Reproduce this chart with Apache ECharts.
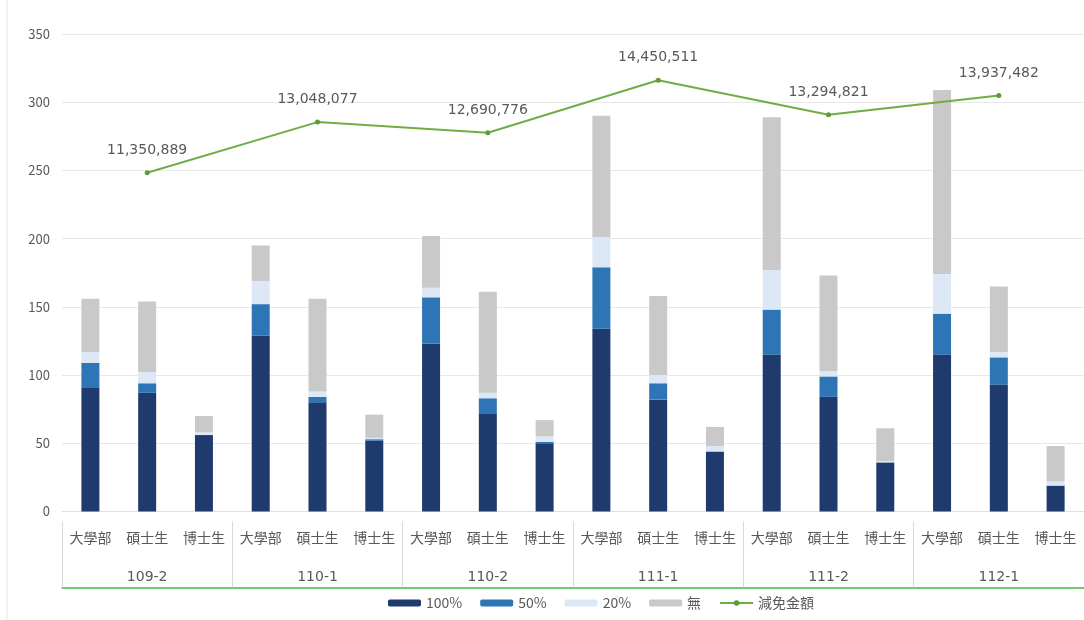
<!DOCTYPE html>
<html>
<head>
<meta charset="utf-8">
<script src="https://cdn.jsdelivr.net/npm/echarts@6/dist/echarts.min.js"></script>
<style>
html,body{margin:0;padding:0;background:#fff;}
#c{width:1084px;height:620px;}
</style>
</head>
<body>
<div id="c"></div>
<script>
const groups = ['109-2','110-1','110-2','111-1','111-2','112-1'];
const levels = ['大學部','碩士生','博士生'];
// per category: 109-2 (大學部, 碩士生, 博士生), 110-1 (...), ...
const full100 = [91, 87, 56, 129, 80, 52, 123, 72, 50, 134, 82, 44, 115, 84, 36, 115, 93, 19];
const half50  = [18,  7,  0,  23,  4,  1,  34, 11,  1,  45, 12,  0,  33, 15,  0,  30, 20,  0];
const part20  = [ 8,  8,  2,  17,  4,  1,   7,  4,  4,  22,  6,  4,  29,  4,  1,  29,  4,  3];
const none    = [39, 52, 12,  26, 68, 17,  38, 74, 12,  89, 58, 14, 112, 70, 24, 135, 48, 26];
const amounts = [11350889, 13048077, 12690776, 14450511, 13294821, 13937482];
const yTicks = [0, 50, 100, 150, 200, 250, 300, 350];

const cats = [];
groups.forEach(g => levels.forEach(l => cats.push(l)));
const lineData = [];
groups.forEach((g, i) => { lineData.push(null, amounts[i], null); });

const colors = ['#1f3a6c', '#2e75b6', '#dce8f5', '#c9c9c9'];
const font = '"Noto Sans CJK TC", "Noto Sans", sans-serif';
const numFont = '"DejaVu Sans", sans-serif';
const barCommon = { type: 'bar', stack: 's', barWidth: 18, xAxisIndex: 0, yAxisIndex: 0 };

const chart = echarts.init(document.getElementById('c'));
chart.setOption({
  animation: false,
  textStyle: { fontFamily: font },
  color: colors.concat(['#70ad47']),
  grid: { left: 62, right: -2, top: 34, bottom: 108.5 },
  legend: {
    bottom: 5, left: 383, itemWidth: 33, itemHeight: 7, itemGap: 18,
    textStyle: { color: '#595959', fontSize: 14, fontFamily: font },
    data: ['100%', '50%', '20%', '無', '減免金額']
  },
  graphic: [{ type: 'line', shape: { x1: 7, y1: 0, x2: 7, y2: 620 }, style: { stroke: '#e6e6e6', lineWidth: 1 } }],
  xAxis: [
    {
      type: 'category', data: cats, position: 'bottom',
      axisLine: { show: true, onZero: false, lineStyle: { color: '#e0e0e0' } },
      axisTick: { show: false },
      axisLabel: { interval: 0, color: '#595959', fontSize: 14, margin: 19, fontFamily: font }
    },
    {
      type: 'category', data: groups, position: 'bottom', offset: 76,
      axisLine: { show: true, onZero: false, lineStyle: { color: '#3cb93c', width: 1.5 } },
      axisTick: { show: true, inside: true, length: 66, interval: 0, lineStyle: { color: '#d9d9d9' } },
      axisLabel: { inside: true, interval: 0, color: '#595959', fontSize: 14, margin: 3, fontFamily: numFont }
    }
  ],
  yAxis: [
    {
      type: 'value', min: yTicks[0], max: yTicks[yTicks.length - 1], interval: 50,
      axisLine: { show: false }, axisTick: { show: false },
      splitLine: { lineStyle: { color: '#e8e8e8' } },
      axisLabel: { color: '#595959', fontSize: 13, margin: 12, fontFamily: font }
    },
    { type: 'value', min: 0, max: 16000000, show: false, splitLine: { show: false } }
  ],
  series: [
    Object.assign({ name: '100%', data: full100 }, barCommon),
    Object.assign({ name: '50%', data: half50 }, barCommon),
    Object.assign({ name: '20%', data: part20 }, barCommon),
    Object.assign({ name: '無', data: none }, barCommon),
    {
      name: '減免金額', type: 'line', xAxisIndex: 0, yAxisIndex: 1, data: lineData,
      connectNulls: true, symbol: 'circle', symbolSize: 5,
      lineStyle: { color: '#70ad47', width: 2 },
      itemStyle: { color: '#5e9c3a' },
      label: {
        show: true, position: 'top', distance: 13, color: '#595959', fontSize: 14, fontFamily: numFont,
        formatter: p => p.value == null ? '' : Number(p.value).toLocaleString('en-US')
      }
    }
  ]
});
</script>
</body>
</html>
